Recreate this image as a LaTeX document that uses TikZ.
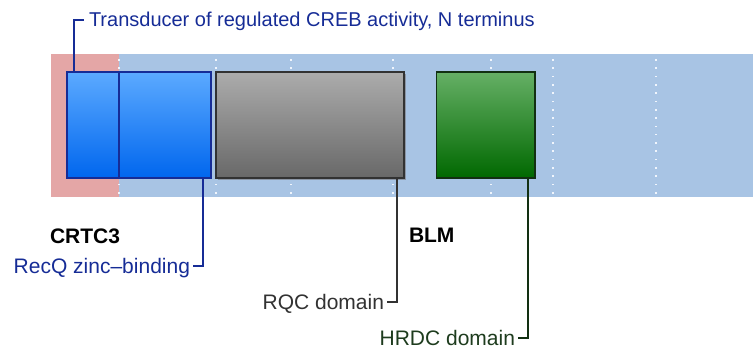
\documentclass[tikz,border=0pt]{standalone}
\usepackage{fontspec}
\setmainfont{Liberation Sans}
\definecolor{pinkbg}{RGB}{228,166,166}
\definecolor{bluebg}{RGB}{168,196,228}
\definecolor{dotcol}{RGB}{240,245,252}
\definecolor{dblue}{RGB}{22,44,150}
\definecolor{bluetop}{RGB}{92,170,255}
\definecolor{bluebot}{RGB}{0,102,238}
\definecolor{greytop}{RGB}{172,172,172}
\definecolor{greybot}{RGB}{104,104,104}
\definecolor{dgrey}{RGB}{50,50,50}
\definecolor{shadowcol}{RGB}{140,150,165}
\definecolor{greentop}{RGB}{102,176,102}
\definecolor{greenbot}{RGB}{0,104,0}
\definecolor{dgreen}{RGB}{18,48,18}
\definecolor{greentext}{RGB}{30,60,30}
\tikzset{
  domainbox/.style={rectangle, inner sep=0pt, outer sep=0pt, line width=1.8pt, minimum height=106.5pt},
  bluedom/.style={domainbox, draw=dblue, top color=bluetop, bottom color=bluebot},
  greydom/.style={domainbox, draw=dgrey, top color=greytop, bottom color=greybot},
  greendom/.style={domainbox, draw=dgreen, top color=greentop, bottom color=greenbot},
  lbl/.style={inner sep=0pt, outer sep=0pt, font=\fontsize{21}{24}\selectfont},
  toplbl/.style={inner sep=0pt, outer sep=0pt, font=\fontsize{20}{23}\selectfont},
  protlbl/.style={inner sep=0pt, outer sep=0pt, font=\fontsize{21}{24}\selectfont\bfseries},
  callout/.style={line width=1.8pt}
}
\begin{document}
\begin{tikzpicture}[x=1pt,y=-1pt]
\useasboundingbox (0,0) rectangle (753,358);
% background band
\fill[pinkbg] (51,54) rectangle (119,197);
\fill[bluebg] (119,54) rectangle (753,197);
% dotted guide lines
\foreach \x in {119,216,291,393,491,553,656}{
  \foreach \k in {0,...,16}{
    \fill[dotcol] ({\x-0.8},{60+8.3*\k-0.8}) rectangle +(1.6,1.6);
  }
}
% shadow of the grey domain
\fill[shadowcol] (218,74) rectangle (406,180);
% domains
\node[bluedom, minimum width=52pt] (trd) at (93,125) {};
\node[bluedom, minimum width=92pt] (zinc) at (165,125) {};
\node[greydom, minimum width=188pt] (rqc) at (310,125) {};
\node[greendom, minimum width=98.5pt] (hrdc) at (485.75,125) {};
% protein names
\node[protlbl, anchor=base west] (crtc) at (50,243.5) {CRTC3};
\node[protlbl, anchor=base west] (blm) at (409,243) {BLM};
% callout labels
\node[toplbl, anchor=base west, text=dblue] (tl) at (89,26.5) {Transducer of regulated CREB activity, N terminus};
\node[lbl, anchor=base east, text=dblue] (zl) at (190,273.5) {RecQ zinc--binding};
\node[lbl, anchor=base east, text=dgrey] (rl) at (384,309) {RQC domain};
\node[lbl, anchor=base east, text=greentext] (hl) at (515,345.5) {HRDC domain};
% callout corners and ends
\coordinate (tC) at (74,20);   \coordinate (tE) at (84,20);
\coordinate (zC) at (203,266); \coordinate (zE) at (193,266);
\coordinate (rC) at (397,302); \coordinate (rE) at (387,302);
\coordinate (hC) at (528,338); \coordinate (hE) at (518,338);
\draw[callout, dblue] (trd.north -| tC) -- (tC) -- (tE);
\draw[callout, dblue] (zinc.south -| zC) -- (zC) -- (zE);
\draw[callout, dgrey] (rqc.south -| rC) -- (rC) -- (rE);
\draw[callout, dgreen] (hrdc.south -| hC) -- (hC) -- (hE);
\end{tikzpicture}
\end{document}
